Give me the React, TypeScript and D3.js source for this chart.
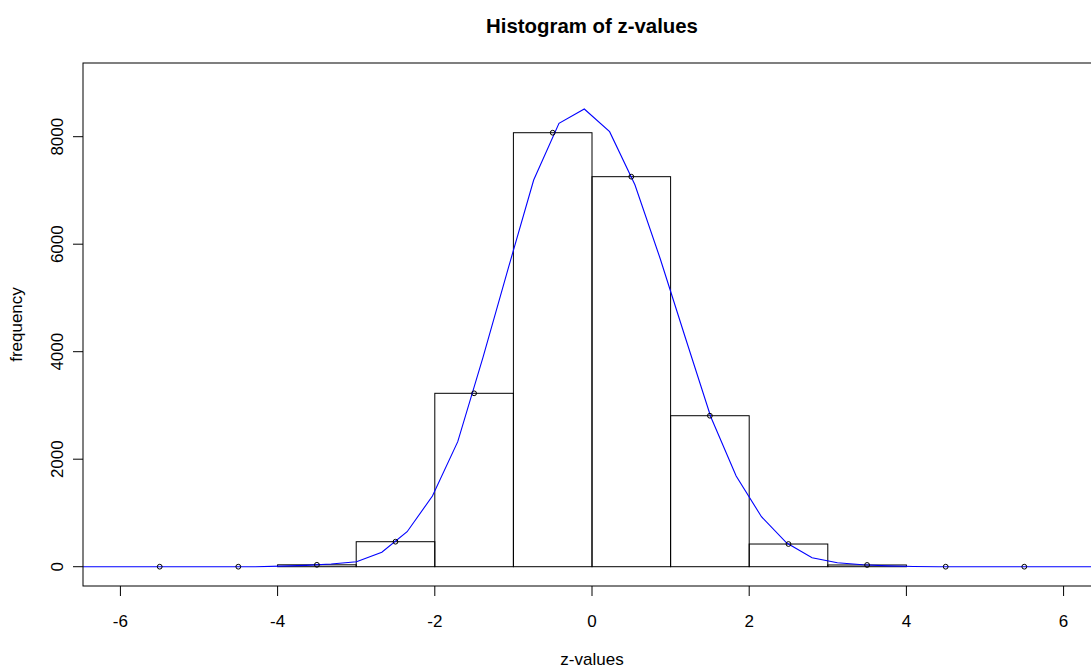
import React from "react";
import * as d3 from "d3";

const binStarts = [-6, -5, -4, -3, -2, -1, 0, 1, 2, 3, 4, 5];
const binCounts = [0, 0, 35, 465, 3226, 8074, 7256, 2809, 422, 32, 0, 0];
const binMids = [-5.5, -4.5, -3.5, -2.5, -1.5, -0.5, 0.5, 1.5, 2.5, 3.5, 4.5, 5.5];

const curveX = [
  -6.538, -6.216, -5.894, -5.572, -5.25, -4.928, -4.606, -4.284, -3.962, -3.64, -3.318,
  -2.996, -2.674, -2.352, -2.03, -1.708, -1.386, -1.064, -0.742, -0.42, -0.098, 0.224,
  0.546, 0.868, 1.19, 1.512, 1.834, 2.156, 2.478, 2.8, 3.122, 3.444, 3.766, 4.088, 4.41,
  4.732, 5.054, 5.376, 5.698, 6.02, 6.342, 6.664,
];
const curveY = [
  0, 0, 0, 0, 0, 0, 0, 0, 10, 25, 50,
  93, 268, 651, 1315, 2326, 3900, 5560, 7194, 8249, 8515, 8093,
  7106, 5730, 4250, 2785, 1687, 930, 440, 167, 74, 35, 15, 5, 0,
  0, 0, 0, 0, 0, 0, 0,
];

const xTicks = [-6, -4, -2, 0, 2, 4, 6];
const yTicks = [0, 2000, 4000, 6000, 8000];

const W = 1091;
const H = 668;
const L = 83;
const R = 1101;
const T = 63;
const B = 586;
const FONT = "'Liberation Sans', Arial, sans-serif";

export default function App() {
  const x = d3.scaleLinear().domain([-6.476, 6.476]).range([L, R]);
  const y = d3.scaleLinear().domain([-359, 9371]).range([B, T]);
  const line = d3
    .line<number>()
    .x((_, i) => x(curveX[i]))
    .y((d) => y(d));

  return (
    <svg
      width={W}
      height={H}
      style={{ position: "absolute", left: 0, top: 0, background: "#fff" }}
      fontFamily={FONT}
    >
      <defs>
        <clipPath id="plot">
          <rect x={L} y={T} width={R - L} height={B - T} />
        </clipPath>
      </defs>
      <rect x={0} y={0} width={W} height={H} fill="#fff" />
      <text x={(L + R) / 2} y={33} textAnchor="middle" fontSize={20.4} fontWeight="bold">
        Histogram of z-values
      </text>
      <g clipPath="url(#plot)">
        {binStarts.map((s, i) => (
          <rect
            key={i}
            x={x(s)}
            y={y(binCounts[i])}
            width={x(s + 1) - x(s)}
            height={y(0) - y(binCounts[i])}
            fill="none"
            stroke="#000"
            strokeWidth={1}
          />
        ))}
        <path d={line(curveY) || ""} fill="none" stroke="#0000ff" strokeWidth={1.1} />
        {binMids.map((m, i) => (
          <circle key={i} cx={x(m)} cy={y(binCounts[i])} r={2.4} fill="none" stroke="#000" strokeWidth={1} />
        ))}
      </g>
      <rect x={L} y={T} width={R - L} height={B - T} fill="none" stroke="#000" strokeWidth={1} />
      {xTicks.map((t) => (
        <g key={t}>
          <line x1={x(t)} x2={x(t)} y1={B} y2={B + 10} stroke="#000" />
          <text x={x(t)} y={627} textAnchor="middle" fontSize={17}>
            {t}
          </text>
        </g>
      ))}
      {yTicks.map((t) => (
        <g key={t}>
          <line x1={L - 10} x2={L} y1={y(t)} y2={y(t)} stroke="#000" />
          <text
            transform={`translate(63,${y(t)}) rotate(-90)`}
            textAnchor="middle"
            fontSize={17}
          >
            {t}
          </text>
        </g>
      ))}
      <text x={(L + R) / 2} y={665} textAnchor="middle" fontSize={17}>
        z-values
      </text>
      <text transform={`translate(22,${(T + B) / 2}) rotate(-90)`} textAnchor="middle" fontSize={17}>
        frequency
      </text>
    </svg>
  );
}
